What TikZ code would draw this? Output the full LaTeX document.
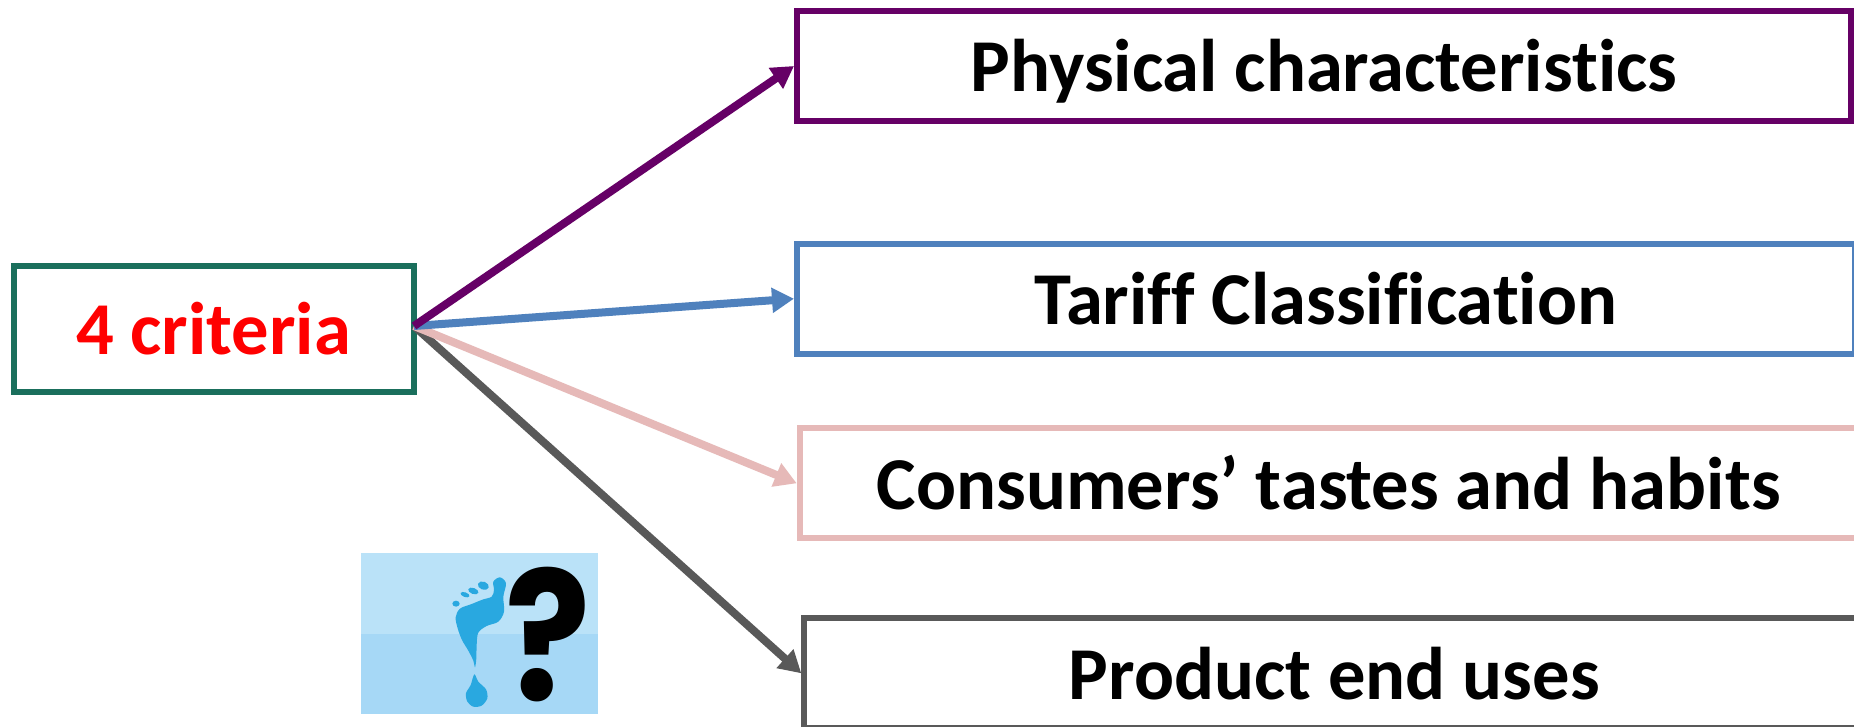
\documentclass[tikz,border=0pt]{standalone}
\usepackage{fontspec}
\setmainfont{Carlito}[Ligatures=NoCommon]
\newfontfamily\qfont{Poppins}
\usetikzlibrary{arrows.meta}
\definecolor{cgreen}{HTML}{1A6F5C}
\definecolor{cpurple}{HTML}{660066}
\definecolor{cblue}{HTML}{4F81BD}
\definecolor{cpink}{HTML}{E6B9B8}
\definecolor{cgray}{HTML}{595959}
\definecolor{ctop}{HTML}{BAE2F8}
\definecolor{cbot}{HTML}{A6D8F6}
\definecolor{cfoot}{HTML}{29A8E0}
\tikzset{
  critbox/.style={draw=#1,line width=6pt,fill=white,inner sep=0pt,font=\fontsize{74.6}{90}\selectfont\bfseries,text=black,anchor=north west,text height=60pt,text depth=8pt},
  link/.style={draw=#1,line width=8pt,-{Triangle[length=22pt,width=24pt]}},
}
\begin{document}
\begin{tikzpicture}[x=1pt,y=-1pt]
\useasboundingbox (0,0) rectangle (1854,727);
\fill[white] (0,0) rectangle (1854,727);
\node[critbox=cgreen,text=red,minimum width=400pt,minimum height=126pt] (src) at (10.5,262.7) {4 criteria};
\node[critbox=cpurple,minimum width=1054pt,minimum height=110pt] (phys) at (794,8) {Physical characteristics};
\node[critbox=cblue,minimum width=1058pt,minimum height=110pt] (tariff) at (794,240.7) {Tariff Classification};
\node[critbox=cpink,minimum width=1058pt,minimum height=110pt] (cons) at (796.7,425.3) {Consumers’ tastes and habits};
\node[critbox=cgray,minimum width=1060pt,minimum height=110pt] (prod) at (801.3,615.3) {Product end uses};
\coordinate (o) at (414,326);
\draw[link=cgray] (o) -- (prod.west);
\draw[link=cpink] (o) -- (cons.west);
\draw[link=cblue] (o) -- (tariff.west);
\draw[link=cpurple] (o) -- (phys.west);
% picture
\fill[ctop] (361,553) rectangle (598,634);
\fill[cbot] (361,634) rectangle (598,714);
\begin{scope}[shift={(340,530)},scale=1/3]
\fill[cfoot] plot[smooth cycle,tension=0.55] coordinates {(405,412)(400,392)(385,362)(366,330)(353,295)(347,262)(360,236)(395,222)(430,208)(455,200)(462,180)(460,155)(480,142)(498,160)(490,200)(492,245)(475,275)(440,288)(415,308)(410,345)(409,385)};
\fill[cfoot,rotate around={-20:(430,167)}] (430,167) ellipse [x radius=17,y radius=12];
\fill[cfoot,rotate around={-20:(400,183)}] (400,183) ellipse [x radius=16,y radius=9];
\fill[cfoot,rotate around={-20:(375,194)}] (375,194) ellipse [x radius=14,y radius=7];
\fill[cfoot] (348,221) ellipse [x radius=11,y radius=9];
\fill[cfoot] plot[smooth cycle,tension=0.5] coordinates {(403,433)(415,455)(438,478)(442,505)(425,527)(400,530)(382,515)(378,490)(392,465)};
\node[inner sep=0pt,anchor=center,xscale=0.88,font=\fontsize{180}{200}\qfont\bfseries] (qm) at (625.5,314) {?};
\end{scope}
\end{tikzpicture}
\end{document}
